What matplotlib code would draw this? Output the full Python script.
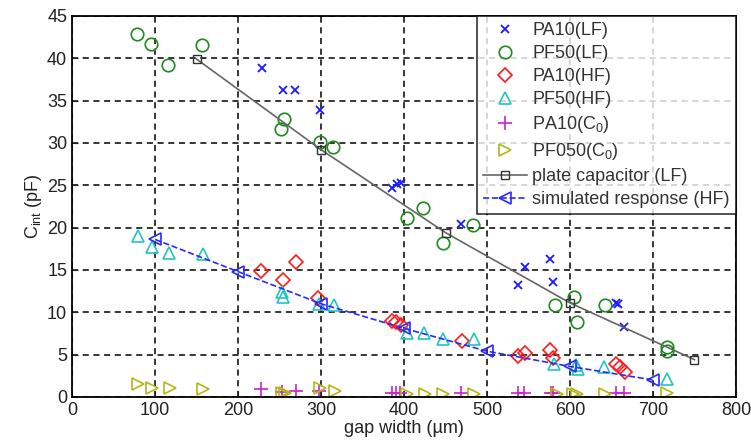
import matplotlib.pyplot as plt

plt.rcParams['font.family'] = ['Liberation Sans', 'DejaVu Sans']
plt.rcParams['mathtext.fontset'] = 'custom'
plt.rcParams['mathtext.rm'] = 'Liberation Sans'
plt.rcParams['mathtext.it'] = 'Liberation Sans'

# PA10 (LF)
pa10_lf_x = [229, 254, 269, 299, 385, 391, 396, 469, 537, 546, 576, 580, 655, 658, 665]
pa10_lf_y = [38.8, 36.2, 36.3, 33.9, 24.7, 25.1, 25.3, 20.4, 13.2, 15.3, 16.3, 13.6, 11.1, 11.0, 8.3]

# PF50 (LF)
pf50_lf_x = [78, 95, 116, 157, 255, 252, 299, 314, 403, 423, 447, 483, 582, 605, 608, 642, 717, 717]
pf50_lf_y = [42.9, 41.7, 39.2, 41.6, 32.8, 31.6, 30.1, 29.5, 21.1, 22.3, 18.2, 20.3, 10.9, 11.8, 8.9, 10.8, 5.9, 5.4]

# PA10 (HF)
pa10_hf_x = [228, 254, 270, 296, 385, 390, 396, 470, 537, 546, 576, 580, 655, 660, 666]
pa10_hf_y = [14.9, 13.8, 15.9, 11.7, 9.0, 8.9, 8.5, 6.6, 4.8, 5.2, 5.6, 4.6, 3.9, 3.5, 2.9]

# PF50 (HF)
pf50_hf_x = [80, 96, 117, 158, 253, 254, 298, 316, 403, 424, 447, 484, 581, 607, 610, 641, 717]
pf50_hf_y = [19.0, 17.7, 17.0, 16.9, 12.4, 11.8, 11.0, 10.8, 7.5, 7.6, 6.8, 6.8, 3.9, 3.8, 3.3, 3.5, 2.1]

# PA10 (C0)
pa10_c0_x = [228, 253, 270, 298, 385, 390, 395, 469, 537, 545, 577, 580, 656, 665]
pa10_c0_y = [0.9, 0.6, 0.7, 0.7, 0.5, 0.5, 0.5, 0.5, 0.5, 0.5, 0.5, 0.5, 0.5, 0.5]

# PF050 (C0)
pf050_c0_x = [80, 96, 118, 158, 253, 257, 299, 317, 403, 425, 447, 484, 584, 604, 608, 642, 717]
pf050_c0_y = [1.5, 1.0, 1.1, 0.9, 0.5, 0.5, 1.0, 0.7, 0.4, 0.4, 0.4, 0.4, 0.35, 0.4, 0.4, 0.4, 0.5]

# model curves
plate_x = [150, 300, 450, 600, 750]
plate_y = [39.9, 29.2, 19.4, 11.1, 4.4]
sim_x = [100, 200, 300, 400, 500, 600, 700]
sim_y = [18.6, 14.8, 11.0, 8.1, 5.4, 3.6, 2.0]

fig = plt.figure(figsize=(7.51, 4.42), dpi=100)
ax = fig.add_axes([0.096, 0.102, 0.884, 0.862])

ax.plot(pa10_lf_x, pa10_lf_y, 'x', color='#1a1aff', ms=6, mew=1.3, label='PA10(LF)')
ax.plot(pf50_lf_x, pf50_lf_y, 'o', color='#1f8a1f', mfc='none', ms=9, mew=1.2, label='PF50(LF)')
ax.plot(pa10_hf_x, pa10_hf_y, 'D', color='#ff1a1a', mfc='none', ms=7, mew=1.2, label='PA10(HF)')
ax.plot(pf50_hf_x, pf50_hf_y, '^', color='#22c4c4', mfc='none', ms=9, mew=1.2, label='PF50(HF)')
ax.plot(pa10_c0_x, pa10_c0_y, '+', color='#cc22cc', ms=10, mew=1.2, label='PA10(C$_0$)')
ax.plot(pf050_c0_x, pf050_c0_y, '>', color='#b5b51a', mfc='none', ms=9, mew=1.2, label='PF050(C$_0$)')
ax.plot(plate_x, plate_y, '-', color='#666666', lw=1.2, marker='s', mfc='none',
        mec='#333333', ms=6, mew=1.0, label='plate capacitor (LF)')
ax.plot(sim_x, sim_y, '--', color='#2a2aff', lw=1.2, marker='<', mfc='none',
        ms=8, mew=1.2, label='simulated response (HF)')

ax.set_xlim(0, 800)
ax.set_ylim(0, 45)
ax.set_xticks(range(0, 801, 100))
ax.set_yticks(range(0, 46, 5))
ax.grid(True, color='black', linestyle=(0, (4, 3)), linewidth=1.1)
ax.tick_params(direction='in', labelsize=13, colors='#222222', length=4)
for s in ax.spines.values():
    s.set_linewidth(1.3)

ax.set_xlabel('gap width (µm)', fontsize=13, color='#222222', labelpad=1)
ax.set_ylabel('C$_{\\mathregular{int}}$ (pF)', fontsize=13, color='#222222', labelpad=2)

leg = ax.legend(loc='upper right', fontsize=13, frameon=True, fancybox=False,
                edgecolor='black', borderaxespad=0, handlelength=2.4,
                handletextpad=0.3, labelspacing=0.33, borderpad=0.35)
leg.get_frame().set_linewidth(1.2)
for t in leg.get_texts():
    t.set_color('#333333')

fig.savefig('out.png', dpi=100)
